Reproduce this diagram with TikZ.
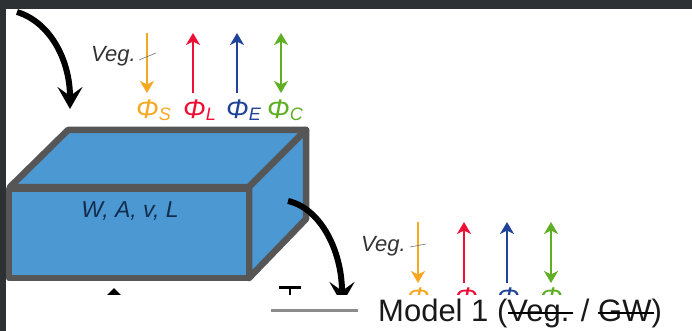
\documentclass[tikz,border=0pt]{standalone}
\usepackage{fontspec}
\setmainfont{Liberation Sans}
\usetikzlibrary{arrows.meta}
\definecolor{frameC}{HTML}{2E3134}
\definecolor{boxfill}{HTML}{4C98D2}
\definecolor{boxline}{HTML}{565656}
\definecolor{navy}{HTML}{122C4C}
\definecolor{cS}{HTML}{F7A823}
\definecolor{cL}{HTML}{EE0F37}
\definecolor{cE}{HTML}{20439A}
\definecolor{cC}{HTML}{5FAE24}
\tikzset{
  x=1pt,y=-1pt,
  boxedge/.style={draw=boxline,line width=6.5pt,line join=round,fill=boxfill},
  bigarrow/.style={draw=black,line width=6pt,-{Stealth[length=22pt,width=25pt,inset=9pt]}},
  flux/.style={line width=2.6pt,-{Stealth[length=12pt,width=14pt,inset=3.5pt]}},
  fluxboth/.style={line width=2.6pt,{Stealth[length=12pt,width=14pt,inset=3.5pt]}-{Stealth[length=12pt,width=14pt,inset=3.5pt]}},
  philabel/.style={inner sep=0pt,anchor=base west,font=\fontsize{27}{27}\selectfont\itshape},
  veglabel/.style={inner sep=0pt,text=black!80,font=\fontsize{22}{22}\selectfont\itshape},
  tick/.style={draw=black!55,line width=0.6pt},
  strike/.style={draw=black,line width=2.2pt},
}
\newcommand{\phisub}[1]{Φ{\fontsize{18}{18}\selectfont\raisebox{-2pt}{#1}}}
\begin{document}
\begin{tikzpicture}
\useasboundingbox (0,0) rectangle (692,331);
\fill[white] (0,0) rectangle (692,331);
% box
\path[boxedge] (10,187) -- (68,130) -- (306,130) -- (249,187) -- cycle;
\path[boxedge] (249,187) -- (306,130) -- (306,219) -- (249,278) -- cycle;
\path[boxedge] (9,189) rectangle (249,278);
\node[inner sep=0pt,text=navy,font=\fontsize{23}{23}\selectfont\itshape] (state) at (130,211) {W, A, v, L};
% inflow and outflow
\coordinate (inA) at (17,12);
\coordinate (inB) at (70,109);
\coordinate (outA) at (288,201);
\coordinate (outB) at (342,304);
\draw[bigarrow] (inA) .. controls (50,22) and (70,60) .. (inB);
\draw[bigarrow] (outA) .. controls (320,208) and (342,250) .. (outB);
% upper fluxes
\coordinate (sa) at (147,33); \coordinate (sb) at (147,93);
\coordinate (la) at (193,93); \coordinate (lb) at (193,33);
\coordinate (ea) at (237,93); \coordinate (eb) at (237,33);
\coordinate (ca) at (281,33); \coordinate (cb) at (281,93);
\draw[flux,cS] (sa) -- (sb);
\draw[flux,cL] (la) -- (lb);
\draw[flux,cE] (ea) -- (eb);
\draw[fluxboth,cC] (ca) -- (cb);
\node[philabel,text=cS] (ps) at (136,119) {\phisub{S}};
\node[philabel,text=cL] (pl) at (183,119) {\phisub{L}};
\node[philabel,text=cE] (pe) at (226,119) {\phisub{E}};
\node[philabel,text=cC] (pc) at (267,119) {\phisub{C}};
\node[veglabel,anchor=west] (veg1) at (91,56) {Veg.};
\coordinate (t1a) at (139,60); \coordinate (t1b) at (156,53);
\draw[tick] (t1a) -- (t1b);
% lower fluxes
\coordinate (s2a) at (418,222); \coordinate (s2b) at (418,283);
\coordinate (l2a) at (464,283); \coordinate (l2b) at (464,222);
\coordinate (e2a) at (507,283); \coordinate (e2b) at (507,222);
\coordinate (c2a) at (551,222); \coordinate (c2b) at (551,283);
\draw[flux,cS] (s2a) -- (s2b);
\draw[flux,cL] (l2a) -- (l2b);
\draw[flux,cE] (e2a) -- (e2b);
\draw[fluxboth,cC] (c2a) -- (c2b);
\node[philabel,text=cS] (ps2) at (407,306) {\phisub{S}};
\node[philabel,text=cL] (pl2) at (455,306) {\phisub{L}};
\node[philabel,text=cE] (pe2) at (497,306) {\phisub{E}};
\node[philabel,text=cC] (pc2) at (540,306) {\phisub{C}};
\node[veglabel,anchor=west] (veg2) at (361,246) {Veg.};
\coordinate (t2a) at (410,247); \coordinate (t2b) at (426,244);
\draw[tick] (t2a) -- (t2b);
% cropped marks under the box
\fill[black] (114,288) -- (121,295) -- (107,295) -- cycle;
\fill[black] (279,286) rectangle (301,288.5);
\fill[black] (288.7,286) rectangle (291.3,295);
% white cover
\fill[white] (0,295) rectangle (692,331);
% legend
\coordinate (leg1) at (271,310); \coordinate (leg2) at (358,310);
\draw[draw=black!45,line width=3pt] (leg1) -- (leg2);
\node[inner sep=0pt,anchor=base west,text=black!90,font=\fontsize{31}{31}\selectfont] (legend) at (378,321) {Model 1 (Veg. / GW)};
\coordinate (v1) at (508,313); \coordinate (v2) at (573,313);
\coordinate (g1) at (598,313); \coordinate (g2) at (654,313);
\draw[strike] (v1) -- (v2);
\draw[strike] (g1) -- (g2);
% frame
\fill[frameC] (0,0) rectangle (692,9);
\fill[frameC] (0,0) rectangle (6,331);
\end{tikzpicture}
\end{document}
